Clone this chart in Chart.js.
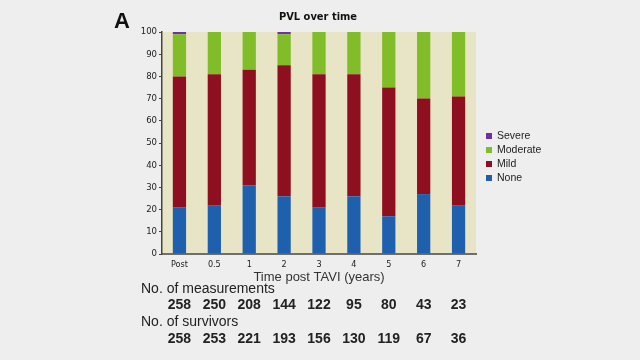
<!DOCTYPE html>
<html>
<head>
<meta charset="utf-8">
<script src="https://cdn.jsdelivr.net/npm/chart.js@4/dist/chart.umd.min.js"></script>
<style>
html, body { margin: 0; padding: 0; background: #eeeeee; }
canvas { display: block; }
</style>
</head>
<body>
<canvas id="chart" width="640" height="360"></canvas>
<script>
// データ
const categories = ['Post', '0.5', '1', '2', '3', '4', '5', '6', '7'];
const noneValues = [21, 22, 31, 26, 21, 26, 17, 27, 22];
const mildValues = [59, 59, 52, 59, 60, 55, 58, 43, 49];
const moderateValues = [19, 19, 17, 14, 19, 19, 25, 30, 29];
const severeValues = [1, 0, 0, 1, 0, 0, 0, 0, 0];
const measurements = [258, 250, 208, 144, 122, 95, 80, 43, 23];
const survivors = [258, 253, 221, 193, 156, 130, 119, 67, 36];

const condensed = '"DejaVu Sans Condensed", "Liberation Sans Narrow", "DejaVu Sans", sans-serif';
const sans = '"Liberation Sans", Arial, sans-serif';

// プロットエリアの背景
const plotBackground = {
    id: 'plotBackground',
    beforeDraw(chart) {
        const { ctx, chartArea: a } = chart;
        ctx.save();
        ctx.fillStyle = '#e8e4c6';
        ctx.fillRect(a.left, a.top, a.right - a.left, a.bottom - a.top);
        ctx.restore();
    }
};

// タイトル・凡例・表
const extraText = {
    id: 'extraText',
    afterDraw(chart) {
        const { ctx } = chart;
        const x = chart.scales.x;
        ctx.save();
        ctx.textBaseline = 'middle';

        ctx.fillStyle = '#111';
        ctx.font = 'bold 22px ' + sans;
        ctx.textAlign = 'center';
        ctx.fillText('A', 122, 22);

        ctx.font = 'bold 11px ' + condensed;
        ctx.fillText('PVL over time', 318, 17);

        ctx.fillStyle = '#333';
        ctx.font = '13px ' + sans;
        ctx.fillText('Time post TAVI (years)', 319, 277);

        // 凡例（逆順）
        const ds = chart.data.datasets.slice().reverse();
        ctx.textAlign = 'left';
        ctx.font = '10.5px ' + sans;
        ds.forEach((d, i) => {
            const y = 136 + i * 14;
            ctx.fillStyle = d.backgroundColor;
            ctx.fillRect(486, y - 3, 6, 6);
            ctx.fillStyle = '#222';
            ctx.fillText(d.label, 497, y);
        });

        // 測定数と生存者数
        ctx.fillStyle = '#222';
        ctx.font = '14px ' + sans;
        ctx.fillText('No. of measurements', 141, 289);
        ctx.fillText('No. of survivors', 141, 322);
        ctx.textAlign = 'center';
        ctx.font = 'bold 14px ' + sans;
        categories.forEach((c, i) => {
            const px = x.getPixelForValue(i);
            ctx.fillText(String(measurements[i]), px, 305);
            ctx.fillText(String(survivors[i]), px, 339);
        });
        ctx.restore();
    }
};

const ctx = document.getElementById('chart').getContext('2d');
const chart = new Chart(ctx, {
    type: 'bar',
    data: {
        labels: categories,
        datasets: [
            { label: 'None', data: noneValues, backgroundColor: '#1f60ae' },
            { label: 'Mild', data: mildValues, backgroundColor: '#8e0f1f' },
            { label: 'Moderate', data: moderateValues, backgroundColor: '#80bd28' },
            { label: 'Severe', data: severeValues, backgroundColor: '#7031a0' }
        ]
    },
    options: {
        responsive: false,
        animation: false,
        devicePixelRatio: 1,
        layout: { padding: { left: 122, right: 164, top: 32, bottom: 76 } },
        datasets: { bar: { barPercentage: 0.38, categoryPercentage: 1 } },
        plugins: {
            legend: { display: false },
            title: { display: false },
            tooltip: { enabled: false }
        },
        scales: {
            x: {
                stacked: true,
                afterFit(scale) { scale.height = 30; },
                grid: { display: false },
                border: { display: true, color: '#6e6e6e', width: 2 },
                ticks: { color: '#222', font: { family: condensed, size: 9 }, padding: -3, maxRotation: 0 }
            },
            y: {
                stacked: true,
                min: 0,
                max: 100,
                afterFit(scale) { scale.width = 40; },
                grid: { drawOnChartArea: false, tickLength: 3, color: '#444' },
                border: { display: true, color: '#444', width: 1.5 },
                ticks: { stepSize: 10, color: '#222', font: { family: condensed, size: 9.5 }, padding: 2 }
            }
        }
    },
    plugins: [plotBackground, extraText]
});
</script>
</body>
</html>
